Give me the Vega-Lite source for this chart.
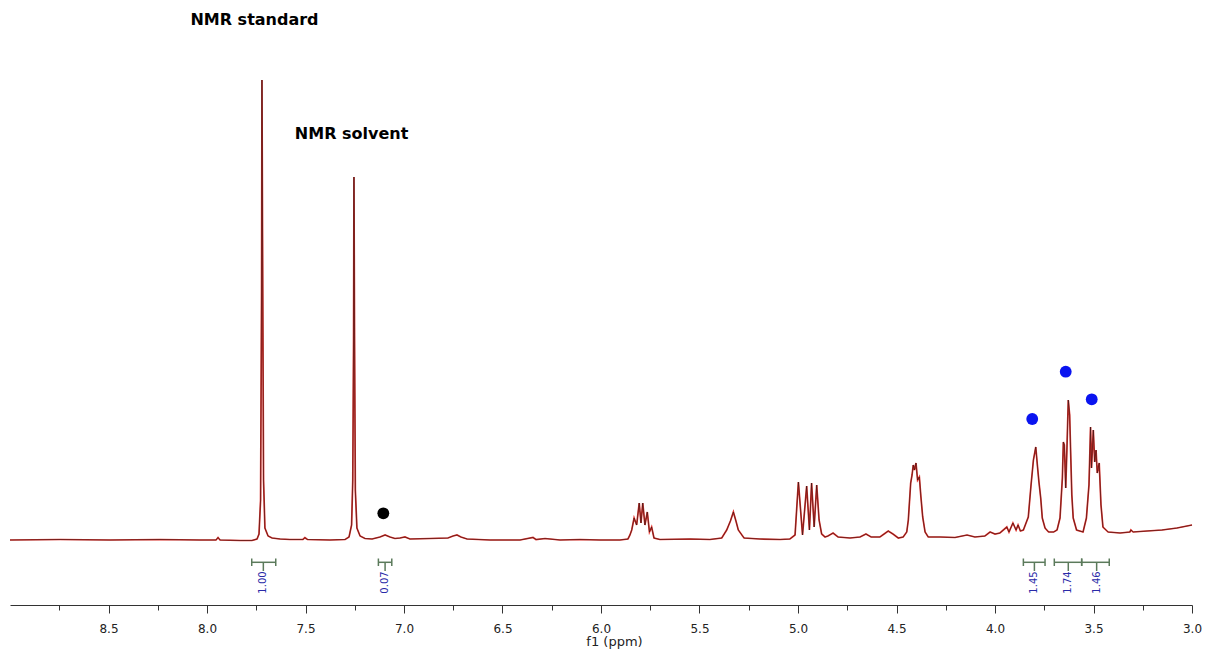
{
  "$schema": "https://vega.github.io/schema/vega-lite/v6.json",
  "width": 1182,
  "height": 605,
  "autosize": {"type": "none"},
  "padding": {"left": 10, "top": 0, "right": 14, "bottom": 45},
  "background": "white",
  "config": {"view": {"stroke": null}},
  "datasets": {
    "spec": [
      {"ppm": 9.000, "h": 0}, {"ppm": 8.746, "h": 0.5}, {"ppm": 8.492, "h": 0}, {"ppm": 8.239, "h": 0.5},
      {"ppm": 8.036, "h": 0}, {"ppm": 7.954, "h": 0}, {"ppm": 7.944, "h": 2.5}, {"ppm": 7.934, "h": 0},
      {"ppm": 7.832, "h": -0.5}, {"ppm": 7.772, "h": -0.5}, {"ppm": 7.746, "h": 1}, {"ppm": 7.736, "h": 6},
      {"ppm": 7.728, "h": 40}, {"ppm": 7.723, "h": 250}, {"ppm": 7.721, "h": 460}, {"ppm": 7.718, "h": 300},
      {"ppm": 7.713, "h": 60}, {"ppm": 7.706, "h": 12}, {"ppm": 7.690, "h": 4}, {"ppm": 7.670, "h": 2},
      {"ppm": 7.629, "h": 1}, {"ppm": 7.579, "h": 0.5}, {"ppm": 7.513, "h": 0.5}, {"ppm": 7.503, "h": 2.3},
      {"ppm": 7.490, "h": 0.5}, {"ppm": 7.376, "h": 0}, {"ppm": 7.299, "h": 0.5}, {"ppm": 7.279, "h": 3},
      {"ppm": 7.266, "h": 15}, {"ppm": 7.260, "h": 60}, {"ppm": 7.256, "h": 200}, {"ppm": 7.254, "h": 363},
      {"ppm": 7.251, "h": 200}, {"ppm": 7.247, "h": 50}, {"ppm": 7.239, "h": 12}, {"ppm": 7.223, "h": 4},
      {"ppm": 7.198, "h": 1.5}, {"ppm": 7.162, "h": 1}, {"ppm": 7.122, "h": 3}, {"ppm": 7.096, "h": 5},
      {"ppm": 7.071, "h": 3}, {"ppm": 7.046, "h": 1.5}, {"ppm": 7.020, "h": 2}, {"ppm": 6.995, "h": 3},
      {"ppm": 6.970, "h": 1}, {"ppm": 6.868, "h": 1.5}, {"ppm": 6.777, "h": 2}, {"ppm": 6.751, "h": 4},
      {"ppm": 6.731, "h": 5}, {"ppm": 6.711, "h": 3}, {"ppm": 6.680, "h": 1}, {"ppm": 6.563, "h": 0},
      {"ppm": 6.411, "h": 0}, {"ppm": 6.345, "h": 2.5}, {"ppm": 6.330, "h": 0.5}, {"ppm": 6.284, "h": 1.5},
      {"ppm": 6.208, "h": 0}, {"ppm": 6.107, "h": 0.5}, {"ppm": 6.005, "h": 0}, {"ppm": 5.904, "h": 0},
      {"ppm": 5.863, "h": 1}, {"ppm": 5.853, "h": 5}, {"ppm": 5.844, "h": 10}, {"ppm": 5.832, "h": 22},
      {"ppm": 5.819, "h": 15}, {"ppm": 5.806, "h": 37}, {"ppm": 5.797, "h": 17}, {"ppm": 5.788, "h": 37},
      {"ppm": 5.777, "h": 15}, {"ppm": 5.765, "h": 28}, {"ppm": 5.754, "h": 8}, {"ppm": 5.743, "h": 13},
      {"ppm": 5.731, "h": 2}, {"ppm": 5.701, "h": 0.5}, {"ppm": 5.548, "h": 1}, {"ppm": 5.447, "h": 0.5},
      {"ppm": 5.387, "h": 2}, {"ppm": 5.362, "h": 10}, {"ppm": 5.343, "h": 19}, {"ppm": 5.328, "h": 28},
      {"ppm": 5.315, "h": 19}, {"ppm": 5.303, "h": 10}, {"ppm": 5.274, "h": 2}, {"ppm": 5.193, "h": 1},
      {"ppm": 5.091, "h": 0.5}, {"ppm": 5.041, "h": 1}, {"ppm": 5.015, "h": 5}, {"ppm": 4.998, "h": 58},
      {"ppm": 4.977, "h": 5}, {"ppm": 4.956, "h": 54}, {"ppm": 4.942, "h": 10}, {"ppm": 4.931, "h": 57},
      {"ppm": 4.918, "h": 13}, {"ppm": 4.905, "h": 55}, {"ppm": 4.893, "h": 20}, {"ppm": 4.880, "h": 6},
      {"ppm": 4.863, "h": 3}, {"ppm": 4.848, "h": 4}, {"ppm": 4.822, "h": 7}, {"ppm": 4.797, "h": 3},
      {"ppm": 4.736, "h": 2}, {"ppm": 4.685, "h": 3}, {"ppm": 4.655, "h": 6}, {"ppm": 4.629, "h": 3},
      {"ppm": 4.584, "h": 3}, {"ppm": 4.563, "h": 6}, {"ppm": 4.542, "h": 9}, {"ppm": 4.518, "h": 6},
      {"ppm": 4.491, "h": 2}, {"ppm": 4.466, "h": 3}, {"ppm": 4.448, "h": 8}, {"ppm": 4.440, "h": 20},
      {"ppm": 4.428, "h": 57}, {"ppm": 4.421, "h": 65}, {"ppm": 4.415, "h": 75}, {"ppm": 4.409, "h": 70},
      {"ppm": 4.401, "h": 77}, {"ppm": 4.393, "h": 60}, {"ppm": 4.384, "h": 63}, {"ppm": 4.376, "h": 43},
      {"ppm": 4.367, "h": 23}, {"ppm": 4.355, "h": 8}, {"ppm": 4.339, "h": 3}, {"ppm": 4.279, "h": 3},
      {"ppm": 4.203, "h": 2.5}, {"ppm": 4.142, "h": 5}, {"ppm": 4.102, "h": 3}, {"ppm": 4.051, "h": 4},
      {"ppm": 4.025, "h": 8}, {"ppm": 4.000, "h": 6}, {"ppm": 3.975, "h": 7}, {"ppm": 3.940, "h": 13},
      {"ppm": 3.929, "h": 8}, {"ppm": 3.909, "h": 17}, {"ppm": 3.893, "h": 10}, {"ppm": 3.883, "h": 15},
      {"ppm": 3.871, "h": 9}, {"ppm": 3.856, "h": 10}, {"ppm": 3.831, "h": 23}, {"ppm": 3.817, "h": 55},
      {"ppm": 3.805, "h": 80}, {"ppm": 3.793, "h": 93}, {"ppm": 3.785, "h": 75}, {"ppm": 3.777, "h": 58},
      {"ppm": 3.768, "h": 42}, {"ppm": 3.760, "h": 22}, {"ppm": 3.746, "h": 12}, {"ppm": 3.728, "h": 8},
      {"ppm": 3.702, "h": 8}, {"ppm": 3.685, "h": 10}, {"ppm": 3.670, "h": 22}, {"ppm": 3.658, "h": 62},
      {"ppm": 3.653, "h": 98}, {"ppm": 3.648, "h": 95}, {"ppm": 3.641, "h": 52}, {"ppm": 3.635, "h": 90},
      {"ppm": 3.628, "h": 140}, {"ppm": 3.621, "h": 125}, {"ppm": 3.616, "h": 88}, {"ppm": 3.610, "h": 45},
      {"ppm": 3.603, "h": 22}, {"ppm": 3.586, "h": 10}, {"ppm": 3.553, "h": 8}, {"ppm": 3.536, "h": 22},
      {"ppm": 3.523, "h": 55}, {"ppm": 3.515, "h": 113}, {"ppm": 3.510, "h": 72}, {"ppm": 3.501, "h": 110},
      {"ppm": 3.494, "h": 78}, {"ppm": 3.487, "h": 90}, {"ppm": 3.481, "h": 67}, {"ppm": 3.471, "h": 77},
      {"ppm": 3.462, "h": 35}, {"ppm": 3.452, "h": 13}, {"ppm": 3.426, "h": 8}, {"ppm": 3.365, "h": 7},
      {"ppm": 3.315, "h": 8}, {"ppm": 3.310, "h": 10}, {"ppm": 3.299, "h": 8}, {"ppm": 3.228, "h": 9},
      {"ppm": 3.152, "h": 10}, {"ppm": 3.076, "h": 12}, {"ppm": 3.000, "h": 15}
    ],
    "integrals": [
      {"lo": 7.773, "hi": 7.651, "mid": 7.714, "label": "1.00"},
      {"lo": 7.130, "hi": 7.062, "mid": 7.096, "label": "0.07"},
      {"lo": 3.856, "hi": 3.746, "mid": 3.800, "label": "1.45"},
      {"lo": 3.699, "hi": 3.560, "mid": 3.628, "label": "1.74"},
      {"lo": 3.560, "hi": 3.420, "mid": 3.484, "label": "1.46"}
    ],
    "dots": [
      {"ppm": 7.105, "h": 26.7, "kind": "impurity"},
      {"ppm": 3.811, "h": 121, "kind": "product"},
      {"ppm": 3.641, "h": 168.3, "kind": "product"},
      {"ppm": 3.509, "h": 140.7, "kind": "product"}
    ],
    "notes": [
      {"ppm": 7.759, "h": 520, "text": "NMR standard"},
      {"ppm": 7.266, "h": 406, "text": "NMR solvent"}
    ]
  },
  "encoding": {
    "x": {
      "field": "ppm", "type": "quantitative",
      "scale": {"domain": [3, 9], "reverse": true, "nice": false, "zero": false},
      "axis": {
        "title": "f1 (ppm)",
        "values": [8.75, 8.5, 8.25, 8.0, 7.75, 7.5, 7.25, 7.0, 6.75, 6.5, 6.25, 6.0, 5.75, 5.5, 5.25, 5.0, 4.75, 4.5, 4.25, 4.0, 3.75, 3.5, 3.25, 3.0],
        "labelExpr": "abs(datum.value*2 - round(datum.value*2)) < 0.01 ? format(datum.value, '.1f') : ''",
        "tickSize": 8,
        "tickDash": {"condition": {"test": "abs(datum.value*2 - round(datum.value*2)) < 0.01", "value": [12, 1]}, "value": [5, 20]},
        "tickColor": "#333333",
        "domainColor": "#333333",
        "grid": false,
        "labelFont": "DejaVu Sans",
        "labelFontSize": 12,
        "labelColor": "#222222",
        "labelPadding": 10,
        "labelFlush": false,
        "labelOverlap": false,
        "labelBound": false,
        "titleFont": "DejaVu Sans",
        "titleFontSize": 13,
        "titleFontWeight": "normal",
        "titleColor": "#222222",
        "titlePadding": 1,
        "titleX": 604
      }
    }
  },
  "layer": [
    {
      "data": {"name": "spec"},
      "mark": {"type": "line", "color": "#e0302a", "strokeWidth": 1.7},
      "encoding": {
        "y": {"field": "h", "type": "quantitative", "scale": {"domain": [-65, 540], "nice": false, "zero": false}, "axis": null}
      }
    },
    {
      "data": {"name": "spec"},
      "mark": {"type": "line", "color": "#111111", "strokeWidth": 0.8, "opacity": 0.65},
      "encoding": {
        "y": {"field": "h", "type": "quantitative", "axis": null}
      }
    },
    {
      "data": {"name": "integrals"},
      "mark": {"type": "rule", "color": "#5b7a5b", "strokeWidth": 1.5},
      "encoding": {
        "x": {"field": "lo", "type": "quantitative"},
        "x2": {"field": "hi"},
        "y": {"datum": -22.3, "type": "quantitative", "axis": null}
      }
    },
    {
      "data": {"name": "integrals"},
      "transform": [{"fold": ["lo", "hi"], "as": ["end", "pos"]}],
      "mark": {"type": "rule", "color": "#5b7a5b", "strokeWidth": 1.5},
      "encoding": {
        "x": {"field": "pos", "type": "quantitative"},
        "y": {"datum": -18.5, "type": "quantitative", "axis": null},
        "y2": {"datum": -26}
      }
    },
    {
      "data": {"name": "integrals"},
      "mark": {"type": "rule", "color": "#5b7a5b", "strokeWidth": 1.5},
      "encoding": {
        "x": {"field": "mid", "type": "quantitative"},
        "y": {"datum": -22.3, "type": "quantitative", "axis": null},
        "y2": {"datum": -31}
      }
    },
    {
      "data": {"name": "integrals"},
      "mark": {"type": "text", "color": "#2a2aa8", "font": "DejaVu Sans", "fontSize": 10, "angle": 270, "align": "center", "baseline": "middle"},
      "encoding": {
        "x": {"field": "mid", "type": "quantitative"},
        "y": {"datum": -42.5, "type": "quantitative", "axis": null},
        "text": {"field": "label"}
      }
    },
    {
      "data": {"name": "dots"},
      "mark": {"type": "point", "filled": true, "size": 140, "opacity": 1},
      "encoding": {
        "y": {"field": "h", "type": "quantitative", "axis": null},
        "color": {"field": "kind", "type": "nominal", "scale": {"domain": ["impurity", "product"], "range": ["#000000", "#0a14f0"]}, "legend": null}
      }
    },
    {
      "data": {"name": "notes"},
      "mark": {"type": "text", "font": "DejaVu Sans", "fontSize": 16, "fontWeight": "bold", "color": "#000000", "align": "center", "baseline": "middle"},
      "encoding": {
        "y": {"field": "h", "type": "quantitative", "axis": null},
        "text": {"field": "text"}
      }
    }
  ]
}
